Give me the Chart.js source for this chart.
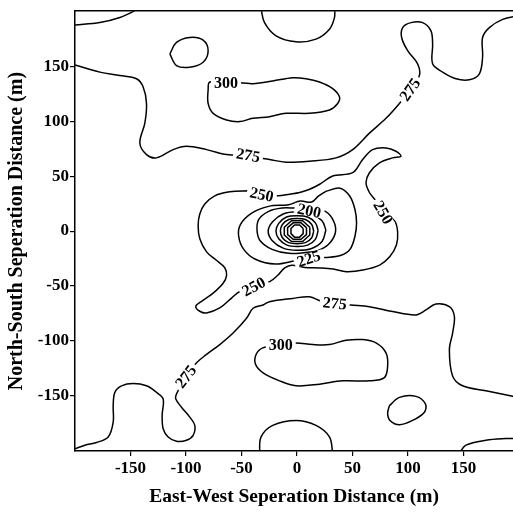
<!DOCTYPE html>
<html>
<head>
<meta charset="utf-8">
<script src="https://cdn.jsdelivr.net/npm/chart.js@4.4.1/dist/chart.umd.min.js"></script>
<style>
  html, body { margin: 0; padding: 0; background: #fff; overflow: hidden; }
  #wrap { width: 513px; height: 512px; }
</style>
</head>
<body>
<div id="wrap"><canvas id="contourChart" width="513" height="512"></canvas></div>
<script>
// Tick values on both axes
const xTicks = [-150, -100, -50, 0, 50, 100, 150];
const yTicks = [-150, -100, -50, 0, 50, 100, 150];

// Contour lines, [east-west, north-south] in metres
const c275Upper = [[-200,151],[-177.6,144.6],[-159.6,141.6],[-144.6,138.6],[-138.6,131.1],[-135.6,116.1],[-137.1,98.1],[-141.6,80.1],[-135.6,69.6],[-126.6,66.6],[-111.6,74.1],[-99.6,77.1],[-81.5,74.1],[-63.5,69.6],[-44,68],[-24.8,65.1],[-9.9,62.7],[11.2,63.6],[35.1,66.6],[50.1,74.1],[65.2,89.1],[80.1,102.6],[92.2,116.1],[101.7,128.7],[110.2,141.6],[108.6,152.1],[99.6,164.1],[94.2,176.1],[95.1,185.1],[102.6,189.6],[113.1,189.6],[120.6,182.1],[122.1,170.1],[122.1,152.1],[131.1,144.6],[143.1,138.6],[155.2,137.7],[164.2,143.1],[167.1,158.1],[167.1,176.1],[173.2,185.1],[185.2,192.6],[200,196]];
const c300Upper = [[-64,135],[-48.6,134.7],[-39.9,134.1],[-21.9,136.5],[-3.9,139.5],[8.1,138.6],[20.2,135.6],[32.1,129.6],[38.2,122.1],[36.6,116.1],[29.2,110.1],[11.2,107.1],[-9.9,107.1],[-24.8,104.1],[-39.9,102.6],[-51.6,99.6],[-63.5,101.1],[-75.6,107.1],[-80.1,116.1],[-80.1,128.1],[-78.6,135.6],[-64,135]];
const cCornerTL = [[-200,187.5],[-177.6,189.7],[-159.6,194.2],[-143,202]];
const cOvalTL = [[-114.6,161.1],[-108.6,171.6],[-96.6,176.1],[-84.6,173.7],[-80.1,164.1],[-84.6,153.6],[-96.6,149.1],[-108.6,150.6],[-114.6,161.1]];
const cArcTop = [[-32.4,202],[-29.3,189.6],[-18.9,177.6],[-0.9,172.2],[17.1,174.6],[29.2,183.6],[33.7,194.1],[33.9,202]];
const c250 = [[-42.6,36.6],[-60.6,35.7],[-74.1,32.1],[-83.1,24.6],[-87.6,15.6],[-89.1,5.1],[-87.6,-6.9],[-81.5,-18.9],[-73.2,-26.1],[-65.1,-33.3],[-63.5,-40.5],[-66.6,-47.4],[-75.6,-56.4],[-86,-63.9],[-91.2,-68.4],[-87.6,-72.9],[-81.5,-74.4],[-69.6,-69.9],[-59,-60.9],[-51.6,-54.9],[-39,-50.4],[-24.6,-45.9],[-17.1,-39.9],[-11.1,-33.5],[-4.8,-31],[6.9,-33],[20.4,-33.5],[32.4,-34.5],[44.5,-36.9],[59.4,-35.4],[74.4,-30.9],[83.4,-23.4],[89.5,-12.6],[90.6,-0.9],[88,9],[78,18],[71.1,27.6],[65.2,35.1],[62.1,44.1],[65.2,53.1],[74.2,62.1],[86.1,66.6],[93.6,68.1],[89.1,72.6],[80.1,75.6],[68.1,74.1],[59.1,65.1],[50.1,53.1],[32.1,50.1],[20.4,42.6],[11.4,38.1],[2.4,35.1],[-6.6,33.6],[-17.1,32.1],[-31.8,33.3],[-42.6,36.6]];
const c225 = [[25.5,36],[19.2,31.8],[13.1,26.4],[3,27.3],[-7.6,24],[-25.6,22.5],[-40.5,16.5],[-51,6],[-52.6,-4.5],[-48,-16.6],[-37.5,-25.6],[-19.5,-30],[-1.5,-27],[12,-25],[25.5,-24],[39,-22.2],[47.7,-16.6],[52.2,-4.5],[53.6,7.5],[52.2,19.4],[47.7,31.5],[38.7,39],[25.5,36]];
const c200 = [[-1.5,21],[-13.5,21],[-25.6,18],[-34.6,10.4],[-36,0],[-33,-9],[-22.5,-16.6],[-7.6,-20.2],[7.5,-19.5],[18,-18],[28.4,-12],[34.5,-1.5],[33,9],[25.5,18],[11,21],[-1.5,21]];
const ring1 = [[5.5,2.3],[2.3,5.5],[-2.3,5.5],[-5.5,2.3],[-5.5,-2.3],[-2.3,-5.5],[2.3,-5.5],[5.5,-2.3],[5.5,2.3]];
const ring2 = [[8.5,3.2],[3.5,7.5],[-3.5,7.5],[-8.5,3.2],[-8.5,-3.2],[-3.5,-7.5],[3.5,-7.5],[8.5,-3.2],[8.5,3.2]];
const ring3 = [[11.5,3.5],[5,9.5],[-5,9.5],[-11.5,3.5],[-11.5,-3.5],[-5,-9.5],[5,-9.5],[11.5,-3.5],[11.5,3.5]];
const ring4 = [[15,0],[13.2,6],[7.5,10.5],[0,11.5],[-7.5,10.5],[-13.2,6],[-15,0],[-13.2,-6],[-7.5,-10.5],[0,-11.5],[7.5,-10.5],[13.2,-6],[15,0]];
const ring5 = [[19,0.5],[16.5,7.5],[9.5,12.8],[0,14],[-9.5,12.8],[-16.5,7],[-19,0],[-16.5,-7],[-9.5,-12.5],[0,-14],[9.5,-12.8],[16.5,-7.5],[19,0.5]];
const ring6 = [[26,1],[22.5,9.5],[12.5,16],[0,17.5],[-12.5,15.5],[-22,8.5],[-26,0],[-22.5,-8.5],[-12.5,-15.5],[0,-17.5],[12.5,-16],[22.5,-9.5],[26,1]];
const c275Lower = [[-200,-198],[-191.1,-194.7],[-180.6,-192.3],[-170.1,-187.2],[-165.6,-173.7],[-165.6,-158.7],[-164.1,-146.7],[-158.1,-140.7],[-147.6,-138.6],[-135.6,-140.7],[-126.6,-146.7],[-120.6,-152.7],[-121.5,-167.7],[-120.6,-179.7],[-116.1,-187.2],[-108.6,-191.1],[-99.6,-190.2],[-93.6,-185.7],[-92.1,-176.7],[-96.6,-169.2],[-104.1,-160.2],[-109.2,-152.7],[-108.6,-148.2],[-100.2,-132.3],[-90.5,-119.7],[-81.5,-112.2],[-69.6,-103.2],[-57.6,-92.7],[-45.5,-79.2],[-39.6,-70.2],[-30.6,-67.2],[-24.8,-64.2],[-3.9,-61.2],[11.2,-59.7],[22,-63.9],[33.9,-65.7],[48.6,-67.2],[65.2,-68.7],[86.1,-73.2],[107.1,-76.2],[116.1,-71.7],[125.1,-66.3],[137.2,-68.7],[141.7,-77.7],[140.1,-92.7],[137.2,-107.7],[140.1,-131.7],[149.1,-140.7],[170.1,-145.2],[194.2,-150.3],[200,-151.5]];
const c300Lower = [[-14.7,-103.2],[-0.9,-101.7],[14.1,-103.2],[29.2,-103.2],[44.1,-99.3],[59.1,-98.7],[71.1,-101.7],[80.1,-110.7],[81.6,-122.7],[78.7,-133.2],[65.2,-136.2],[41.1,-136.2],[20.2,-139.2],[-0.9,-140.7],[-15.8,-136.2],[-30.9,-128.7],[-37.4,-121.2],[-36.9,-112.2],[-30.9,-106.2],[-14.7,-103.2]];
const cOvalBR = [[83.2,-158.7],[92.2,-151.2],[107.1,-150.3],[115.6,-157.2],[114.7,-164.7],[104.1,-172.2],[92.2,-176.1],[83.7,-172.2],[81.6,-165.6],[83.2,-158.7]];
const cArcBottom = [[-33.8,-202],[-32.4,-187.2],[-21.9,-176.7],[-0.9,-172.2],[17.1,-176.7],[29.2,-187.2],[32.1,-202]];
const cCornerBR = [[146.2,-202],[152.1,-194.7],[170.1,-190.2],[188.1,-188.7],[200,-188.5]];

// Contour labels
const labelText  = ['300', '275', '275', '250', '200', '250', '225', '250', '275', '300', '275'];
const labelX     = [-64, -44, 101.7, -31.8, 11, 77.5, 10.5, -39, 33.9, -14.7, -100.2];
const labelY     = [135, 69, 128.7, 33.3, 18.5, 17, -25, -50.4, -65.7, -103.2, -132.3];
const labelAngle = [0, 10, -55, 12, 12, 60, -18, -28, 6, 0, -52];

const smoothLines = [c275Upper, c300Upper, cCornerTL, cOvalTL, cArcTop, c250, c225, c200,
                     ring4, ring5, ring6, c275Lower, c300Lower, cOvalBR, cArcBottom, cCornerBR];
const sharpLines = [ring1, ring2, ring3];

function toDataset(line, tension) {
    return {
        data: line.map(([x, y]) => ({ x, y })),
        showLine: true,
        pointRadius: 0,
        borderColor: '#000',
        borderWidth: 1.5,
        tension: tension,
        fill: false
    };
}

const serif = '"Liberation Serif", "Times New Roman", serif';

// Draws the level numbers on a white patch over the lines
const contourLabels = {
    id: 'contourLabels',
    afterDatasetsDraw(chart) {
        const { ctx, scales: { x, y } } = chart;
        ctx.save();
        ctx.font = 'bold 16px ' + serif;
        ctx.textAlign = 'center';
        ctx.textBaseline = 'middle';
        labelText.forEach((t, i) => {
            const px = x.getPixelForValue(labelX[i]);
            const py = y.getPixelForValue(labelY[i]);
            ctx.save();
            ctx.translate(px, py);
            ctx.rotate(labelAngle[i] * Math.PI / 180);
            const w = ctx.measureText(t).width;
            ctx.fillStyle = '#fff';
            ctx.fillRect(-w / 2 - 3, -5, w + 6, 10);
            ctx.fillStyle = '#000';
            ctx.fillText(t, 0, 1);
            ctx.restore();
        });
        ctx.restore();
    }
};

const tickFont = { family: serif, size: 17, weight: 'bold' };

new Chart(document.getElementById('contourChart'), {
    type: 'scatter',
    data: {
        datasets: [
            ...smoothLines.map(l => toDataset(l, 0.35)),
            ...sharpLines.map(l => toDataset(l, 0))
        ]
    },
    options: {
        responsive: false,
        animation: false,
        layout: { padding: { top: 6, left: 0, right: 0, bottom: 0 } },
        plugins: {
            legend: { display: false },
            tooltip: { enabled: false }
        },
        scales: {
            x: {
                type: 'linear',
                position: 'bottom',
                min: -200,
                max: 194.5,
                afterBuildTicks: s => { s.ticks = xTicks.map(v => ({ value: v })); },
                afterFit: s => { s.height = 61; },
                ticks: { color: '#000', font: tickFont, padding: 2, maxRotation: 0, autoSkip: false },
                grid: { drawOnChartArea: false, drawTicks: true, tickLength: 5, color: '#000', lineWidth: 1.2 },
                border: { display: true, color: '#000', width: 1.5 },
                title: {
                    display: true,
                    text: 'East-West Seperation Distance (m)',
                    color: '#000',
                    font: { family: serif, size: 19.5, weight: 'bold' },
                    padding: { top: 0, bottom: 3 }
                }
            },
            xTop: {
                type: 'linear',
                position: 'top',
                min: -200,
                max: 194.5,
                afterFit: s => { s.height = 0; },
                ticks: { display: false },
                grid: { display: false, drawTicks: false },
                border: { display: true, color: '#000', width: 1.5 }
            },
            y: {
                type: 'linear',
                position: 'left',
                min: -200,
                max: 200,
                afterBuildTicks: s => { s.ticks = yTicks.map(v => ({ value: v })); },
                afterFit: s => { s.width = 75; },
                ticks: { color: '#000', font: tickFont, padding: 1, autoSkip: false },
                grid: { drawOnChartArea: false, drawTicks: true, tickLength: 5, color: '#000', lineWidth: 1.2 },
                border: { display: true, color: '#000', width: 1.5 },
                title: {
                    display: true,
                    text: 'North-South Seperation Distance (m)',
                    color: '#000',
                    font: { family: serif, size: 20, weight: 'bold' },
                    padding: { top: 5, bottom: 0 }
                }
            }
        }
    },
    plugins: [contourLabels]
});
</script>
</body>
</html>
